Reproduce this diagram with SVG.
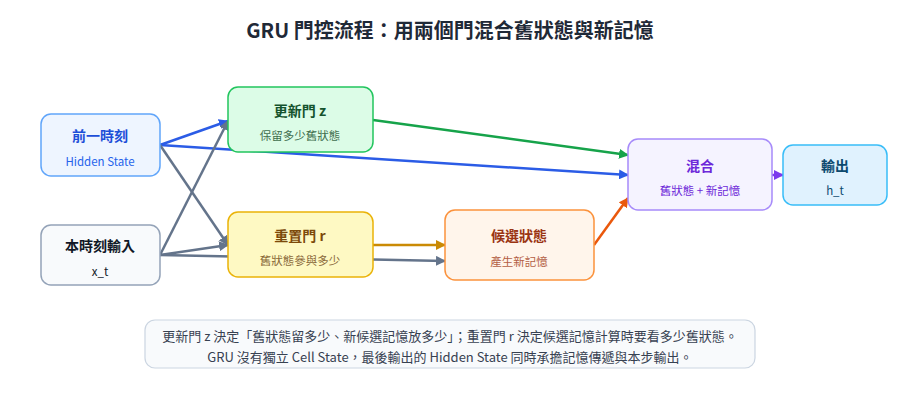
<svg xmlns="http://www.w3.org/2000/svg" width="900" height="400" viewBox="0 0 900 400">
<style>
text{font-family:"Noto Sans CJK TC","Noto Sans",sans-serif;text-anchor:middle}
.t{font-size:14px;font-weight:bold}
.s{font-size:11.5px}
.c{fill:none;stroke-width:2.5}
</style>
<defs>
<marker id="ab" viewBox="0 0 10 10" refX="9" refY="5" markerWidth="4" markerHeight="4" orient="auto"><path d="M0 0L10 5L0 10z" fill="#2b5ce6"/></marker>
<marker id="ag" viewBox="0 0 10 10" refX="9" refY="5" markerWidth="4" markerHeight="4" orient="auto"><path d="M0 0L10 5L0 10z" fill="#64748b"/></marker>
<marker id="agr" viewBox="0 0 10 10" refX="9" refY="5" markerWidth="4" markerHeight="4" orient="auto"><path d="M0 0L10 5L0 10z" fill="#16a34a"/></marker>
<marker id="ay" viewBox="0 0 10 10" refX="9" refY="5" markerWidth="4" markerHeight="4" orient="auto"><path d="M0 0L10 5L0 10z" fill="#ca8a04"/></marker>
<marker id="ao" viewBox="0 0 10 10" refX="9" refY="5" markerWidth="4" markerHeight="4" orient="auto"><path d="M0 0L10 5L0 10z" fill="#ea580c"/></marker>
<marker id="ap" viewBox="0 0 10 10" refX="9" refY="5" markerWidth="4" markerHeight="4" orient="auto"><path d="M0 0L10 5L0 10z" fill="#7c3aed"/></marker>
</defs>
<rect width="900" height="400" fill="#fff"/>
<text x="450" y="38" style="font-size:20px;font-weight:bold" fill="#1f2937">GRU 門控流程：用兩個門混合舊狀態與新記憶</text>
<g id="connectors">
<path class="c" d="M160 145L228 121" stroke="#2b5ce6" marker-end="url(#ab)"/>
<path class="c" d="M160 145L628 175" stroke="#2b5ce6" marker-end="url(#ab)"/>
<path class="c" d="M160 145L228 245" stroke="#64748b" marker-end="url(#ag)"/>
<path class="c" d="M160 255L228 121" stroke="#64748b" marker-end="url(#ag)"/>
<path class="c" d="M160 255L228 245" stroke="#64748b" marker-end="url(#ag)"/>
<path class="c" d="M160 255L445 261" stroke="#64748b" marker-end="url(#ag)"/>
<path class="c" d="M373 120L628 155" stroke="#16a34a" marker-end="url(#agr)"/>
<path class="c" d="M373 245L445 245" stroke="#ca8a04" marker-end="url(#ay)"/>
<path class="c" d="M594 245L628 198" stroke="#ea580c" marker-end="url(#ao)"/>
<path class="c" d="M772 175L783 175" stroke="#7c3aed" marker-end="url(#ap)"/>
</g>
<g id="prev"><rect x="41" y="114" width="119" height="62" rx="10" fill="#eef5ff" stroke="#60a5fa" stroke-width="1.5"/><text class="t" x="100" y="141" fill="#1d4ed8">前一時刻</text><text class="s" x="100" y="166" fill="#2563eb">Hidden State</text></g>
<g id="input"><rect x="41" y="225" width="119" height="60" rx="10" fill="#f8fafc" stroke="#94a3b8" stroke-width="1.5"/><text class="t" x="100" y="251" fill="#111827">本時刻輸入</text><text class="s" x="100" y="276" fill="#111827">x_t</text></g>
<g id="update"><rect x="228" y="87" width="145" height="65" rx="10" fill="#dcfce7" stroke="#22c55e" stroke-width="1.5"/><text class="t" x="300" y="116" fill="#14532d">更新門 z</text><text class="s" x="300" y="140" fill="#3f6e4e">保留多少舊狀態</text></g>
<g id="reset"><rect x="228" y="212" width="145" height="65" rx="10" fill="#fef9c3" stroke="#eab308" stroke-width="1.5"/><text class="t" x="300" y="241" fill="#7c4a0a">重置門 r</text><text class="s" x="300" y="265" fill="#8a6a3a">舊狀態參與多少</text></g>
<g id="cand"><rect x="445" y="210" width="149" height="70" rx="10" fill="#fff5eb" stroke="#fb923c" stroke-width="1.5"/><text class="t" x="519" y="241" fill="#9a3412">候選狀態</text><text class="s" x="519" y="266" fill="#b45f45">產生新記憶</text></g>
<g id="mix"><rect x="628" y="139" width="144" height="71" rx="10" fill="#f5f3ff" stroke="#a78bfa" stroke-width="1.5"/><text class="t" x="700" y="171" fill="#6d28d9">混合</text><text class="s" x="700" y="195" fill="#6d28d9">舊狀態 + 新記憶</text></g>
<g id="out"><rect x="783" y="145" width="104" height="60" rx="10" fill="#e0f2fe" stroke="#38bdf8" stroke-width="1.5"/><text class="t" x="835" y="171" fill="#0c4a6e">輸出</text><text class="s" x="835" y="195" fill="#0c4a6e">h_t</text></g>
<g id="note"><rect x="145" y="320" width="610" height="48" rx="10" fill="#f8fafc" stroke="#cbd5e1" stroke-width="1.2"/><text x="450" y="341" style="font-size:13px" fill="#374151">更新門 z 決定「舊狀態留多少、新候選記憶放多少」；重置門 r 決定候選記憶計算時要看多少舊狀態。</text><text x="450" y="362" style="font-size:13px" fill="#374151">GRU 沒有獨立 Cell State，最後輸出的 Hidden State 同時承擔記憶傳遞與本步輸出。</text></g>
</svg>
